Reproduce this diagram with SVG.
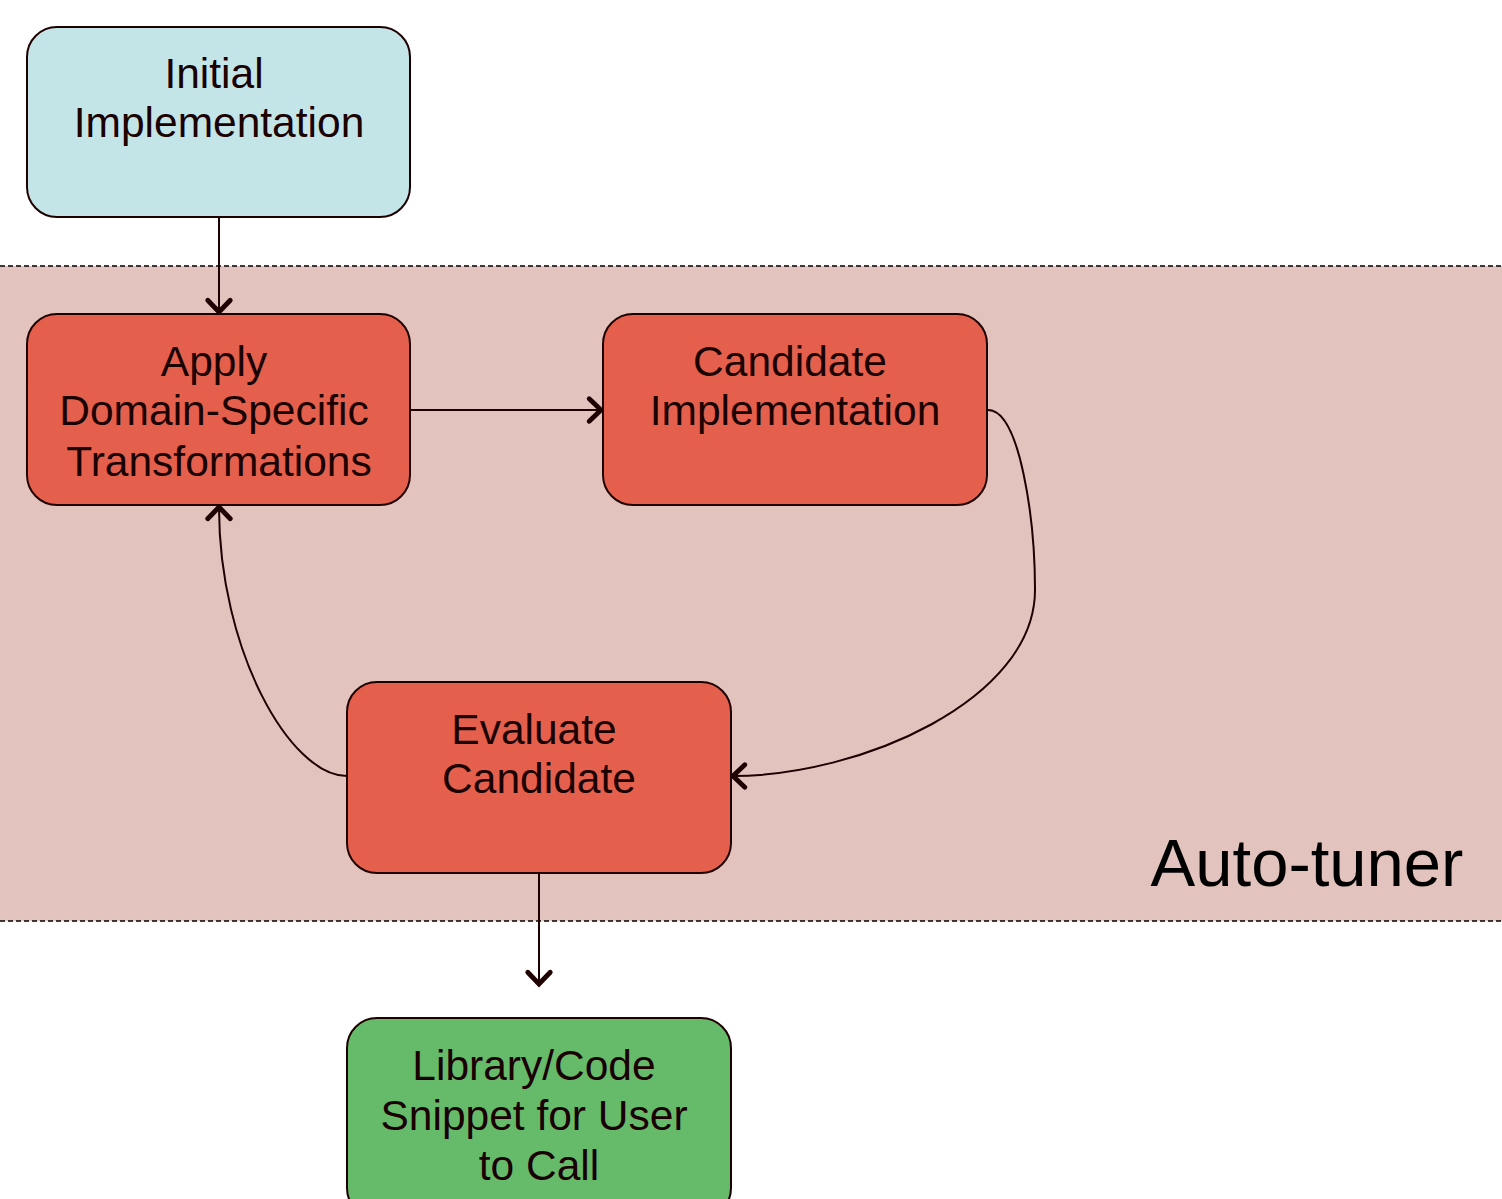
<svg xmlns="http://www.w3.org/2000/svg" width="1502" height="1199" viewBox="0 0 1502 1199">
<style>
.node{stroke:#1f0000;stroke-width:2}
.t{font-family:"Liberation Sans",Arial,sans-serif;font-size:42.5px;fill:#1a0000;text-anchor:middle}
.c{fill:none;stroke:#1f0000;stroke-width:2}
.dash{stroke:#000;stroke-width:1.5;stroke-dasharray:5,3}
</style>
<defs>
<marker id="arr" markerUnits="userSpaceOnUse" markerWidth="30" markerHeight="30" viewBox="-16 -14 20 28" refX="0" refY="0" orient="auto">
<path d="M-11,-10.5 L0,0 L-11,10.5" fill="none" stroke="#1f0000" stroke-width="4.5" stroke-linecap="round" stroke-linejoin="miter"/>
</marker>
</defs>
<rect x="0" y="0" width="1502" height="1199" fill="#fff"/>
<g id="autotuner">
<rect x="0" y="266" width="1502" height="655" fill="#e2c3be"/>
<line class="dash" x1="0" y1="266" x2="1502" y2="266"/>
<line class="dash" x1="0" y1="921" x2="1502" y2="921"/>
<text x="1307" y="886" font-family="'Liberation Sans',Arial,sans-serif" font-size="67" text-anchor="middle" fill="#000">Auto-tuner</text>
</g>
<g id="connectors">
<line class="c" x1="219" y1="218" x2="219" y2="312" marker-end="url(#arr)"/>
<line class="c" x1="411" y1="410" x2="601" y2="410" marker-end="url(#arr)"/>
<path class="c" d="M988,410 C1020,410 1035,520 1035,590 C1035,700 860,776 733,776" marker-end="url(#arr)"/>
<path class="c" d="M347,776 C290,776 219,650 219,507" marker-end="url(#arr)"/>
<line class="c" x1="539" y1="874" x2="539" y2="984" marker-end="url(#arr)"/>
</g>
<g id="initial">
<rect class="node" x="27" y="27" width="383" height="190" rx="30" fill="#c4e5e7"/>
<text class="t" x="214" y="88">Initial</text>
<text class="t" x="219" y="137">Implementation</text>
</g>
<g id="apply">
<rect class="node" x="27" y="314" width="383" height="191" rx="30" fill="#e4604c"/>
<text class="t" x="214" y="376">Apply</text>
<text class="t" x="214" y="425">Domain-Specific</text>
<text class="t" x="219" y="476">Transformations</text>
</g>
<g id="candidate">
<rect class="node" x="603" y="314" width="384" height="191" rx="30" fill="#e4604c"/>
<text class="t" x="790" y="376">Candidate</text>
<text class="t" x="795" y="425">Implementation</text>
</g>
<g id="evaluate">
<rect class="node" x="347" y="682" width="384" height="191" rx="30" fill="#e4604c"/>
<text class="t" x="534" y="744">Evaluate</text>
<text class="t" x="539" y="793">Candidate</text>
</g>
<g id="library">
<rect class="node" x="347" y="1018" width="384" height="200" rx="30" fill="#66bb6a"/>
<text class="t" x="534" y="1080">Library/Code</text>
<text class="t" x="534" y="1130">Snippet for User</text>
<text class="t" x="539" y="1180">to Call</text>
</g>
</svg>
